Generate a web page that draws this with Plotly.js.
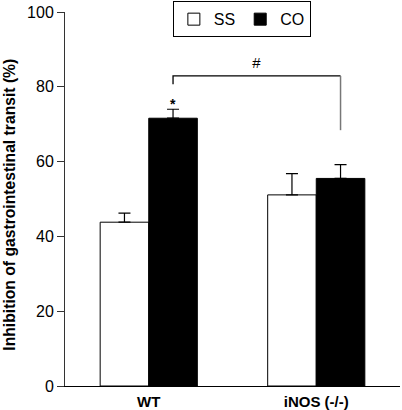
<!DOCTYPE html>
<html>
<head>
<meta charset="utf-8">
<script src="https://cdn.plot.ly/plotly-3.0.1.min.js"></script>
<style>html,body{margin:0;padding:0;background:#fff;}#chart{width:402px;height:410px;}</style>
</head>
<body>
<div id="chart"></div>
<script>
const categories = ["WT", "iNOS (-/-)"];
const ssValues = [43.8, 51.1];
const ssErrors = [2.4, 5.7];
const coValues = [71.6, 55.5];
const coErrors = [2.4, 3.7];
const seriesNames = ["SS", "CO"];
const yTicks = [0, 20, 40, 60, 80, 100];
const yTitle = "Inhibition of gastrointestinal transit (%)";
// significance bracket (WT CO vs iNOS CO)
const bracketTop = 82.9;
const bracketLeftEnd = 80.7;
const bracketRightEnd = 68.4;
const starY = 75.5;
const hashY = 86.5;

const barOffset = 0.145;
const xWtCo = 0 + barOffset;
const xInosCo = 1 + barOffset;
const FONT = "Liberation Sans, Arial, sans-serif";

const traces = [
  {
    type: "bar", name: seriesNames[0], x: categories, y: ssValues,
    marker: {color: "#ffffff", line: {color: "#000", width: 1}},
    error_y: {type: "data", array: ssErrors, arrayminus: [0, 0], symmetric: false, color: "#000", thickness: 1.2, width: 6}
  },
  {
    type: "bar", name: seriesNames[1], x: categories, y: coValues,
    marker: {color: "#000000", line: {color: "#000", width: 1}},
    error_y: {type: "data", array: coErrors, arrayminus: [0, 0], symmetric: false, color: "#000", thickness: 1.2, width: 6}
  }
];

const layout = {
  width: 402, height: 410,
  margin: {l: 65, r: 2, t: 11, b: 24},
  paper_bgcolor: "#fff", plot_bgcolor: "#fff",
  barmode: "group", bargap: 0.42, bargroupgap: 0,
  showlegend: true,
  legend: {
    orientation: "h", x: 0.322, y: 1.026, xanchor: "left", yanchor: "top",
    bordercolor: "#000", borderwidth: 1, bgcolor: "#fff",
    font: {family: FONT, size: 16, color: "#000"},
    itemwidth: 30, tracegroupgap: 0
  },
  font: {family: FONT, color: "#000"},
  xaxis: {
    type: "category", range: [-0.5, 1.5], showline: true, linecolor: "#000", linewidth: 1,
    ticks: "", showgrid: false, zeroline: false, ticklabelstandoff: 2,
    tickfont: {family: FONT, size: 15, color: "#000", weight: "bold"}
  },
  yaxis: {
    range: [0, 100], tickvals: yTicks, ticktext: yTicks.map(String),
    showline: true, linecolor: "#333", linewidth: 1, ticks: "outside", ticklen: 7, tickcolor: "#333",
    showgrid: false, zeroline: false,
    tickfont: {family: FONT, size: 16, color: "#000"}
  },
  shapes: [
    {type: "path", xref: "x", yref: "y",
     path: "M" + xWtCo + "," + bracketLeftEnd + " L" + xWtCo + "," + bracketTop + " L" + xInosCo + "," + bracketTop,
     line: {color: "#000", width: 1.3}},
    {type: "line", xref: "x", yref: "y", x0: xInosCo, x1: xInosCo, y0: bracketTop, y1: bracketRightEnd,
     line: {color: "#777", width: 1.5}}
  ],
  annotations: [
    {xref: "x", yref: "y", x: xWtCo, y: starY, text: "*", showarrow: false,
     font: {size: 14, color: "#000", weight: "bold"}},
    {xref: "x", yref: "y", x: (xWtCo + xInosCo) / 2, y: hashY, text: "<i>#</i>", showarrow: false,
     font: {size: 15, color: "#000"}},
    {xref: "paper", yref: "paper", x: -0.164, y: 0.485, xanchor: "center", yanchor: "middle",
     text: yTitle, textangle: -90, showarrow: false,
     font: {family: FONT, size: 15.7, color: "#000", weight: "bold"}}
  ]
};

Plotly.newPlot("chart", traces, layout, {displayModeBar: false, staticPlot: true});
</script>
</body>
</html>
